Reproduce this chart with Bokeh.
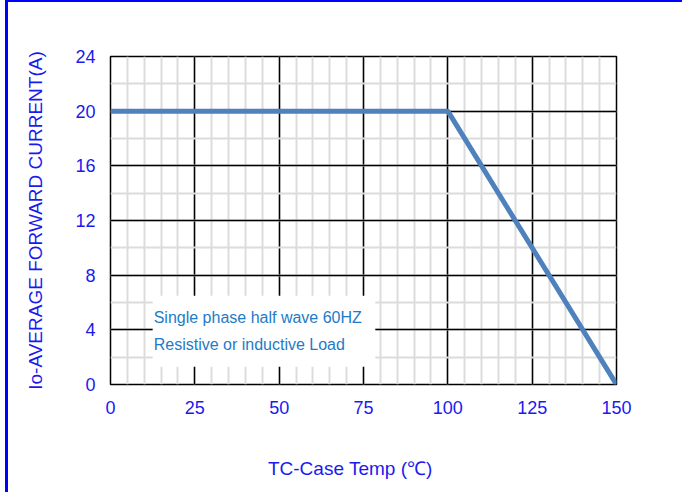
from bokeh.plotting import figure
from bokeh.models import SingleIntervalTicker, BoxAnnotation, Label, Range1d
from bokeh.embed import file_html
from bokeh.resources import INLINE

# data
temps = [0, 100, 150]
current = [20, 20, 0]
x_range = (0, 150)
y_range = (0, 24)
x_major, x_minor = 25, 5
y_major, y_minor = 4, 2
note_lines = ["Single phase half wave 60HZ", "Resistive or inductive Load"]
x_title = "TC-Case Temp (\u2103)"
y_title = "Io-AVERAGE FORWARD CURRENT(A)"

BLUE = "#1a1aee"
FONT = "Liberation Sans"

p = figure(width=682, height=492, output_backend="svg", toolbar_location=None,
           x_range=Range1d(*x_range), y_range=Range1d(*y_range),
           min_border_left=110, min_border_right=66, min_border_top=56, min_border_bottom=108)
p.styles = {
    "background-color": "white",
    "background-image": "linear-gradient(#0000ff, #0000ff), linear-gradient(#0000ff, #0000ff)",
    "background-size": "100% 2px, 3px 100%",
    "background-position": "5px 0px, 5px 0px",
    "background-repeat": "no-repeat",
}

p.xaxis.ticker = SingleIntervalTicker(interval=x_major, num_minor_ticks=x_major // x_minor)
p.yaxis.ticker = SingleIntervalTicker(interval=y_major, num_minor_ticks=y_major // y_minor)

for ax in (p.xaxis[0], p.yaxis[0]):
    ax.axis_line_color = None
    ax.major_tick_line_color = None
    ax.minor_tick_line_color = None
    ax.major_label_text_color = BLUE
    ax.major_label_text_font = FONT
    ax.major_label_text_font_size = "18px"
    ax.axis_label_text_color = BLUE
    ax.axis_label_text_font = FONT
    ax.axis_label_text_font_size = "19px"
    ax.axis_label_text_font_style = "normal"

# trailing no-break spaces shift the centred title slightly left, as in the original
p.xaxis.axis_label = x_title + "\u00a0" * 5
p.yaxis.axis_label = y_title
p.xaxis.major_label_standoff = 10
p.yaxis.major_label_standoff = 9
p.xaxis.axis_label_standoff = 41
p.yaxis.axis_label_standoff = 26

for g in (p.xgrid[0], p.ygrid[0]):
    g.grid_line_color = "#000000"
    g.grid_line_width = 1.5
    g.minor_grid_line_color = "#dcdcdc"
    g.minor_grid_line_width = 2

p.outline_line_color = "#000000"
p.outline_line_width = 1.5
p.background_fill_color = "white"
p.border_fill_color = None

p.add_layout(BoxAnnotation(left=12.5, right=78.5, bottom=1.3, top=6.5,
                           fill_color="white", fill_alpha=1.0, line_color=None))
for i, t in enumerate(note_lines):
    p.add_layout(Label(x=12.8, y=4.9 - i * 2.0, text=t, text_color="#1e7bc8",
                       text_font=FONT, text_font_size="16px", text_baseline="middle"))

p.line(temps, current, line_color="#4f81bd", line_width=5)

open("out.html", "w").write(file_html(p, INLINE))
